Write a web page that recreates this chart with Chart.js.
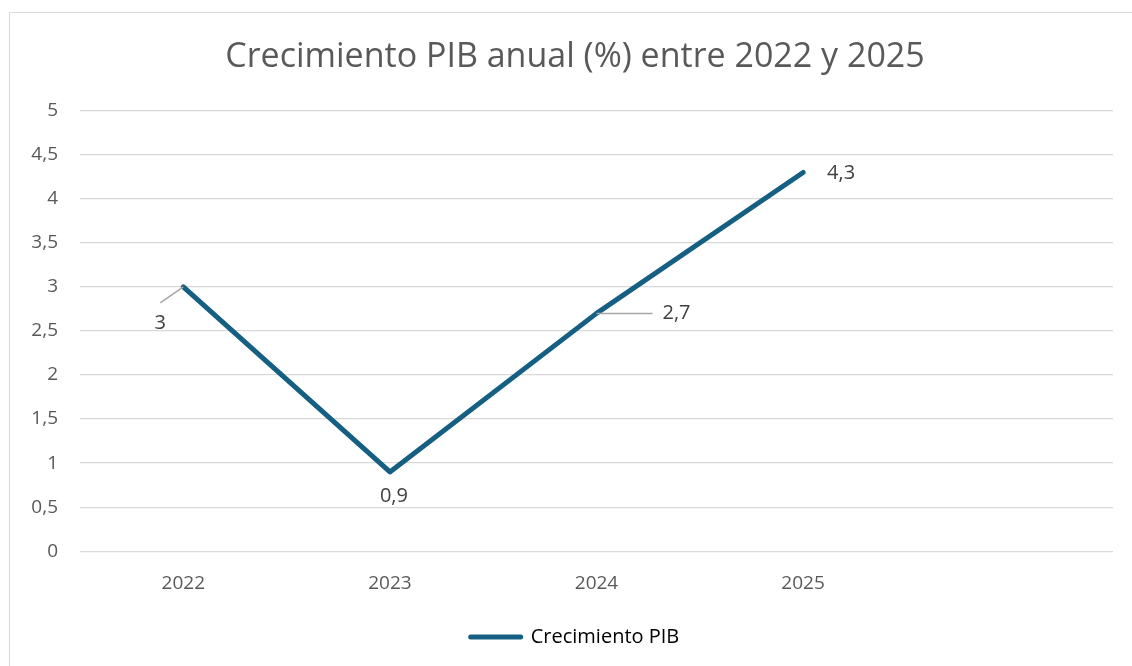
<!DOCTYPE html>
<html>
<head>
<meta charset="utf-8">
<script src="https://cdn.jsdelivr.net/npm/chart.js@4"></script>
<style>
  html, body { margin: 0; padding: 0; background: #fff; }
  #wrap { position: relative; width: 1132px; height: 666px; }
</style>
</head>
<body>
<div id="wrap"><canvas id="myChart" width="1132" height="666"></canvas></div>
<script>
// chart data
const years = ["2022", "2023", "2024", "2025", ""];
const pibGrowth = [3, 0.9, 2.7, 4.3, null];
const yTicks = [0, 0.5, 1, 1.5, 2, 2.5, 3, 3.5, 4, 4.5, 5];

const fontFam = "'Open Sans', Roboto, sans-serif";
const fmt = (v) => String(v).replace(".", ",");

// label placement around each point (px), with leader lines
const labelPos = [
  { dx: -23, dy: 36, leader: true },
  { dx: 4, dy: 24, leader: false },
  { dx: 80, dy: 0, leader: true },
  { dx: 38, dy: 1, leader: false },
];

const frame = {
  id: "frame",
  beforeDraw(chart) {
    let ctx = chart.ctx;
    ctx.save();
    ctx.strokeStyle = "#d9d9d9";
    ctx.lineWidth = 1;
    ctx.strokeRect(9.5, 12.5, 1200, 700);
    ctx.restore();
  },
};

// y tick labels drawn outside the narrow axis box so they don't get clipped
const yLabels = {
  id: "yLabels",
  afterDraw(chart) {
    let ctx = chart.ctx;
    let y = chart.scales.y;
    ctx.save();
    ctx.font = "19px " + fontFam;
    ctx.fillStyle = "#595959";
    ctx.textAlign = "right";
    ctx.textBaseline = "middle";
    y.ticks.forEach((t) => {
      ctx.fillText(fmt(t.value), chart.chartArea.left - 22, y.getPixelForValue(t.value));
    });
    ctx.restore();
  },
};

const pointLabels = {
  id: "pointLabels",
  afterDatasetsDraw(chart) {
    let ctx = chart.ctx;
    let meta = chart.getDatasetMeta(0);
    ctx.save();
    ctx.font = "20px " + fontFam;
    ctx.fillStyle = "#404040";
    ctx.textAlign = "center";
    ctx.textBaseline = "middle";
    meta.data.forEach((pt, i) => {
      let v = pibGrowth[i];
      if (v == null || !labelPos[i]) return;
      let p = labelPos[i];
      let tx = pt.x + p.dx;
      let ty = pt.y + p.dy;
      if (p.leader) {
        ctx.strokeStyle = "#a6a6a6";
        ctx.lineWidth = 1.5;
        ctx.beginPath();
        ctx.moveTo(pt.x, pt.y);
        if (p.dy > 0) ctx.lineTo(tx, ty - 20);
        else ctx.lineTo(tx - 24, ty);
        ctx.stroke();
      }
      ctx.fillText(fmt(v), tx, ty);
    });
    ctx.restore();
  },
};

let ctx = document.getElementById("myChart").getContext("2d");

const myChart = new Chart(ctx, {
  type: "line",
  data: {
    labels: years,
    datasets: [
      {
        label: "Crecimiento PIB",
        data: pibGrowth,
        borderColor: "#156082",
        backgroundColor: "#156082",
        borderWidth: 5,
        borderCapStyle: "round",
        borderJoinStyle: "round",
        pointRadius: 0,
        tension: 0,
      },
    ],
  },
  options: {
    responsive: false,
    animation: false,
    layout: {
      padding: { top: 13, left: 37, right: 19, bottom: 9 },
    },
    plugins: {
      title: {
        display: true,
        text: "Crecimiento PIB anual (%) entre 2022 y 2025",
        color: "#595959",
        font: { family: fontFam, size: 34, weight: "normal" },
        padding: { top: 24, bottom: 33 },
      },
      legend: {
        position: "bottom",
        labels: {
          color: "#595959",
          font: { family: fontFam, size: 20 },
          usePointStyle: true,
          pointStyleWidth: 50,
          padding: 19,
          generateLabels: (chart) => [
            {
              text: "Crecimiento PIB",
              pointStyle: "line",
              strokeStyle: "#156082",
              fillStyle: "#156082",
              lineWidth: 5,
              lineCap: "round",
              datasetIndex: 0,
            },
          ],
        },
      },
      tooltip: { enabled: false },
    },
    scales: {
      x: {
        offset: true,
        grid: { display: false },
        border: { display: false },
        ticks: {
          color: "#595959",
          font: { family: fontFam, size: 19 },
          padding: 13,
          maxRotation: 0,
        },
      },
      y: {
        min: 0,
        max: 5,
        afterBuildTicks: (scale) => {
          scale.ticks = yTicks.map((v) => ({ value: v }));
        },
        afterFit: (scale) => {
          scale.width = 43;
        },
        grid: { color: "#d9d9d9", lineWidth: 1.3, drawTicks: false },
        border: { display: false },
        ticks: { display: false },
      },
    },
  },
  plugins: [frame, yLabels, pointLabels],
});
</script>
</body>
</html>
